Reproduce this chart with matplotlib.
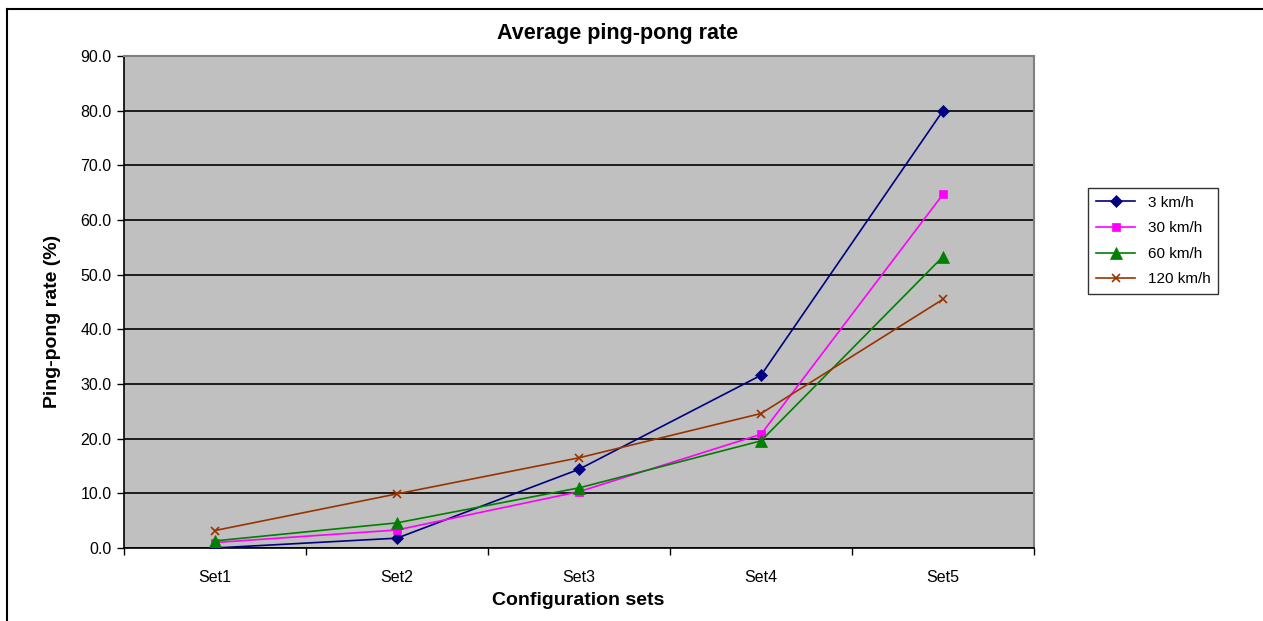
import matplotlib.pyplot as plt
from matplotlib.lines import Line2D

plt.rcParams['font.family'] = ['Liberation Sans', 'DejaVu Sans']

# data
sets = ['Set1', 'Set2', 'Set3', 'Set4', 'Set5']
rate_3 = [0.0, 1.8, 14.4, 31.6, 80.0]
rate_30 = [1.0, 3.3, 10.3, 20.8, 64.7]
rate_60 = [1.3, 4.6, 11.0, 19.6, 53.3]
rate_120 = [3.2, 9.9, 16.5, 24.6, 45.5]

series = [
    ('3 km/h', rate_3, '#000080', 'D', 6),
    ('30 km/h', rate_30, '#FF00FF', 's', 6),
    ('60 km/h', rate_60, '#008000', '^', 8),
    ('120 km/h', rate_120, '#993300', 'x', 6),
]

W, H = 1263, 621
fig = plt.figure(figsize=(W / 100, H / 100), dpi=100)
ax = fig.add_axes([124 / W, 1 - 548 / H, (1034 - 124) / W, (548 - 56) / H])
ax.set_facecolor('#C0C0C0')

x = list(range(len(sets)))
for name, vals, col, mk, ms in series:
    ax.plot(x, vals, color=col, marker=mk, markersize=ms, linewidth=1.2,
            markeredgewidth=1.2 if mk == 'x' else 0.5, label=name, zorder=3)

ax.set_xlim(-0.5, 4.5)
ax.set_ylim(0, 90)
ax.set_yticks(range(0, 91, 10))
ax.set_yticklabels([f'{v:.1f}' for v in range(0, 91, 10)], fontsize=11.5)
ax.yaxis.grid(True, color='black', linewidth=1.2)
ax.set_axisbelow(True)

ax.set_xticks([i - 0.5 for i in range(6)])
ax.set_xticklabels([])
ax.set_xticks(x, minor=True)
ax.set_xticklabels(sets, minor=True, fontsize=11.5)
ax.tick_params(axis='x', which='minor', length=0, pad=16)
ax.tick_params(axis='x', which='major', length=5, width=1, direction='out')
ax.tick_params(axis='y', length=5, width=1, direction='out', pad=4)

for s in ['top', 'right']:
    ax.spines[s].set_color('#808080')
    ax.spines[s].set_linewidth(1.5)
for s in ['left', 'bottom']:
    ax.spines[s].set_color('black')
    ax.spines[s].set_linewidth(1.2)

# titles placed like the original Excel chart
fig.text(617.5 / W, 1 - 39 / H, 'Average ping-pong rate', fontsize=15.5,
         fontweight='bold', ha='center', va='baseline')
fig.text(578 / W, 1 - 605 / H, 'Configuration sets', fontsize=14,
         fontweight='bold', ha='center', va='baseline')
fig.text(53 / W, 1 - 321 / H, 'Ping-pong rate (%)', fontsize=14,
         fontweight='bold', ha='center', va='center', rotation=90)

leg = ax.legend(loc='upper left', bbox_to_anchor=(1088 / W, 1 - 188 / H),
                bbox_transform=fig.transFigure, fontsize=11, frameon=True,
                fancybox=False, edgecolor='black', handlelength=2.6,
                borderpad=0.5, labelspacing=0.76, borderaxespad=0)
leg.get_frame().set_linewidth(1.0)

# outer chart border (only top and left visible)
fig.add_artist(Line2D([7 / W, 7 / W], [0, 1 - 9 / H], transform=fig.transFigure,
                      color='black', linewidth=1.5))
fig.add_artist(Line2D([7 / W, 1], [1 - 9 / H, 1 - 9 / H], transform=fig.transFigure,
                      color='black', linewidth=1.5))

fig.savefig('out.png', dpi=100, facecolor='white')
